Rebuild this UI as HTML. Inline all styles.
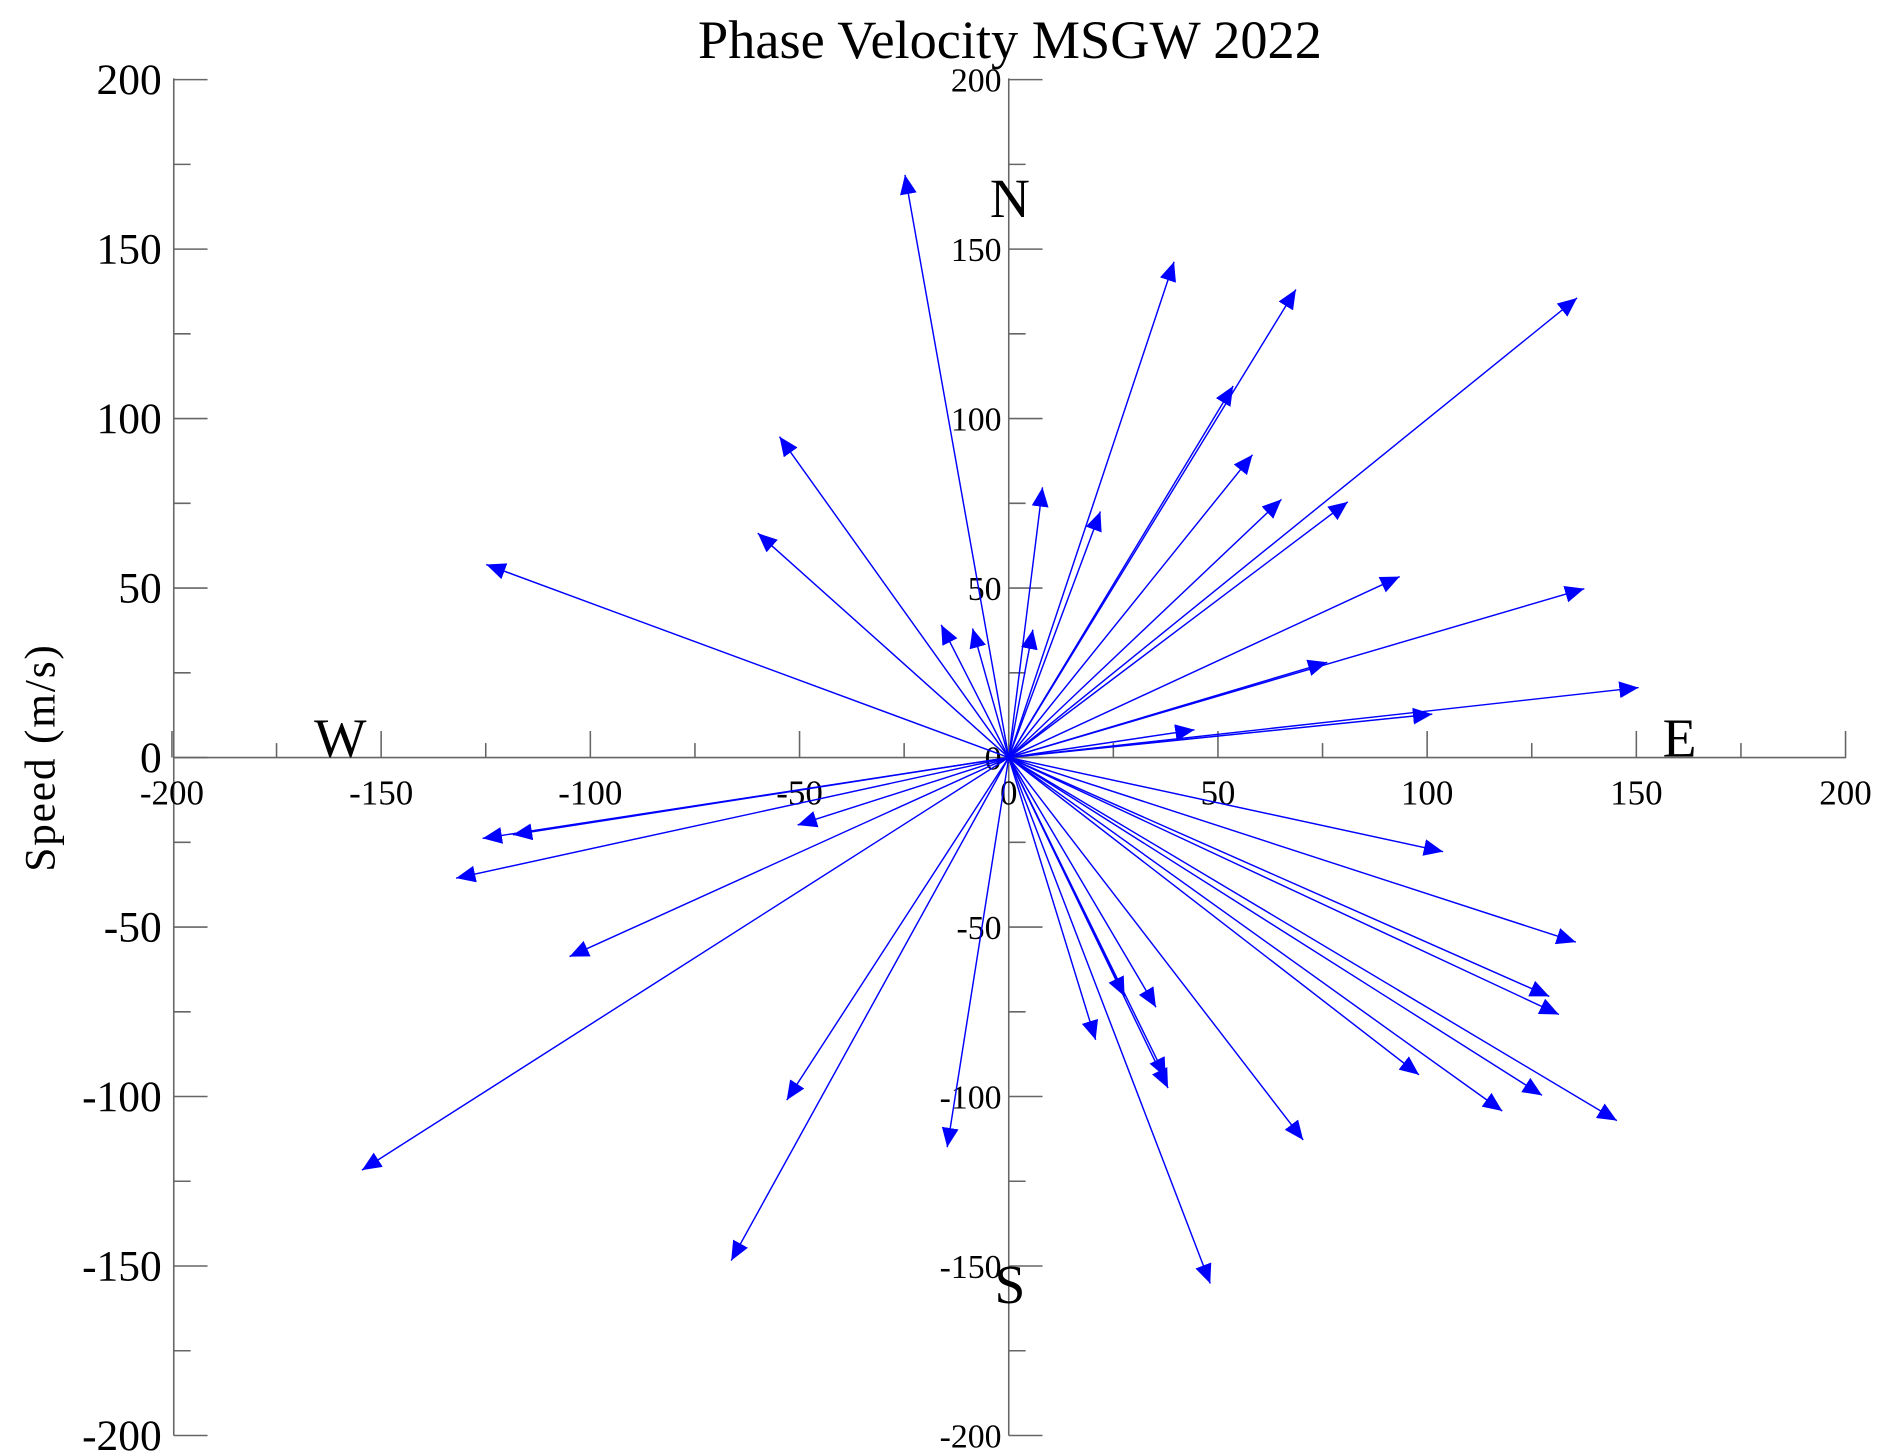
<!DOCTYPE html>
<html><head><meta charset="utf-8"><style>
html,body{margin:0;padding:0;background:#fff;}
svg{display:block;}
text{font-family:"Liberation Serif",serif;fill:#000;}
</style></head><body>
<svg width="1892" height="1456" viewBox="0 0 1568 1207" preserveAspectRatio="none" xmlns="http://www.w3.org/2000/svg">
<defs>
<marker id="a" markerUnits="userSpaceOnUse" markerWidth="20" markerHeight="16" refX="16" refY="7" orient="auto">
<path d="M0,0 L16,7 L0,14 Z" fill="#0000ff"/>
</marker>
</defs>
<text x="837" y="48" font-size="45" text-anchor="middle">Phase Velocity MSGW 2022</text>
<g stroke="#666" stroke-width="1.3" fill="none">
<line x1="144" y1="65" x2="144" y2="1190"/>
<line x1="836" y1="65" x2="836" y2="1190"/>
<line x1="144" y1="628" x2="1530" y2="628"/>
</g>
<g id="ticks" stroke="#666" stroke-width="1.3"></g>
<g id="labels"></g>
<text x="837" y="180" font-size="46" text-anchor="middle">N</text>
<text x="282" y="627" font-size="46" text-anchor="middle">W</text>
<text x="1392" y="627" font-size="46" text-anchor="middle">E</text>
<text x="837" y="1080" font-size="46" text-anchor="middle">S</text>
<text transform="translate(45,628) rotate(-90)" font-size="36" letter-spacing="1.5" text-anchor="middle">Speed (m/s)</text>
<g id="arrows" stroke="#0000ff" stroke-width="1.2" marker-end="url(#a)"></g>
<script>
var NS="http://www.w3.org/2000/svg";
function el(p,t,a,txt){var e=document.createElementNS(NS,t);for(var k in a)e.setAttribute(k,a[k]);if(txt!==undefined)e.textContent=txt;document.getElementById(p).appendChild(e);}
var ox=836,oy=628,sx=3.4675,sy=2.81;
for(var v=-200;v<=200;v+=25){
  var y=oy-v*sy, x=ox+v*sx, maj=(v%50==0);
  var L=maj?28:14;
  el("ticks","line",{x1:144,y1:y,x2:144+L,y2:y});
  el("ticks","line",{x1:836,y1:y,x2:836+L,y2:y});
  el("ticks","line",{x1:x,y1:628,x2:x,y2:628-(maj?22:12)});
  if(maj){
    el("labels","text",{x:134,y:y+12,"font-size":36,"text-anchor":"end"},""+v);
    el("labels","text",{x:830,y:y+10,"font-size":28,"text-anchor":"end"},""+v);
    el("labels","text",{x:x,y:667,"font-size":29,"text-anchor":"middle"},""+v);
  }
}
var pts=[[750,145],[973,217],[1074,240],[1307,247],[1022,320],[646,362],[1038,377],[864,404],[912,424],[1062,414],[1117,416],[628,442],[403,468],[1160,478],[1313,488],[780,518],[806,521],[856,522],[1100,549],[1358,570],[1187,592],[990,605],
[400,695],[425,692],[378,728],[661,684],[1196,706],[472,793],[1306,781],[1284,826],[1292,841],[958,835],[932,826],[908,862],[966,893],[968,902],[652,912],[1176,891],[1080,945],[1245,921],[1278,908],[1340,929],[785,951],[300,970],[606,1045],[1003,1064]];
pts.forEach(function(p){el("arrows","line",{x1:ox,y1:oy,x2:p[0],y2:p[1]});});
</script>
</svg>
</body></html>
